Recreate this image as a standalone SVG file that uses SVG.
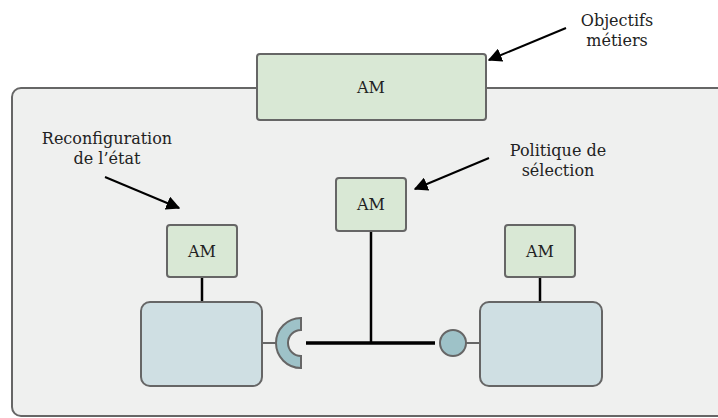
<svg xmlns="http://www.w3.org/2000/svg" width="718" height="418" viewBox="0 0 718 418">
<style>
.am{fill:#d9e8d5;stroke:#666;stroke-width:2}
.comp{fill:#cfdfe3;stroke:#666;stroke-width:2}
.port{fill:#9ec2c8;stroke:#666;stroke-width:2}
.t{font-family:"DejaVu Serif","Liberation Serif",serif;font-size:16px;fill:#222;text-anchor:middle}
.wire{stroke:#000;stroke-width:2.5;fill:none}
.gw{stroke:#666;stroke-width:2;fill:none}
.arr{stroke:#000;stroke-width:2;fill:none;marker-end:url(#ah)}
</style>
<defs>
<marker id="ah" viewBox="0 0 10 10" refX="9" refY="5" markerWidth="7" markerHeight="7" orient="auto" markerUnits="strokeWidth">
<path d="M0,0 L10,5 L0,10 z" fill="#000"/>
</marker>
</defs>
<rect width="718" height="418" fill="#fff"/>
<g id="container">
<rect x="12" y="88" width="730" height="328" rx="9" fill="#eff0ef" stroke="#666" stroke-width="2"/>
</g>
<g id="connectors">
<line class="wire" x1="202" y1="277" x2="202" y2="302"/>
<line class="wire" x1="540" y1="277" x2="540" y2="302"/>
<line class="wire" x1="371" y1="231" x2="371" y2="343"/>
<line x1="306" y1="343" x2="435" y2="343" stroke="#000" stroke-width="3.5"/>
<line class="gw" x1="262" y1="343" x2="276" y2="343"/>
<line class="gw" x1="466" y1="343" x2="480" y2="343"/>
<line class="arr" x1="566" y1="28" x2="489" y2="60"/>
<line class="arr" x1="105" y1="177" x2="179" y2="208"/>
<line class="arr" x1="489" y1="158" x2="415" y2="189"/>
</g>
<g id="am-top">
<rect class="am" x="257" y="54" width="229" height="66" rx="3"/>
<text class="t" x="371" y="93">AM</text>
</g>
<g id="am-left">
<rect class="am" x="167" y="225" width="70" height="52" rx="3"/>
<text class="t" x="202" y="257">AM</text>
</g>
<g id="am-mid">
<rect class="am" x="336" y="178" width="70" height="53" rx="3"/>
<text class="t" x="371" y="210">AM</text>
</g>
<g id="am-right">
<rect class="am" x="505" y="225" width="70" height="52" rx="3"/>
<text class="t" x="540" y="257">AM</text>
</g>
<g id="comp-left">
<rect class="comp" x="141" y="302" width="121" height="84" rx="9"/>
</g>
<g id="comp-right">
<rect class="comp" x="480" y="302" width="122" height="84" rx="9"/>
</g>
<g id="socket">
<path class="port" d="M301,318 A25,25 0 0 0 301,368 L301,356 A13,13 0 0 1 301,330 Z"/>
</g>
<g id="ball">
<circle class="port" cx="453" cy="343" r="13"/>
</g>
<g id="label-objectifs">
<text class="t" x="617" y="26">Objectifs</text>
<text class="t" x="617" y="46">métiers</text>
</g>
<g id="label-reconf">
<text class="t" x="107" y="144">Reconfiguration</text>
<text class="t" x="107" y="164">de l’état</text>
</g>
<g id="label-politique">
<text class="t" x="558" y="156">Politique de</text>
<text class="t" x="558" y="176">sélection</text>
</g>
</svg>
